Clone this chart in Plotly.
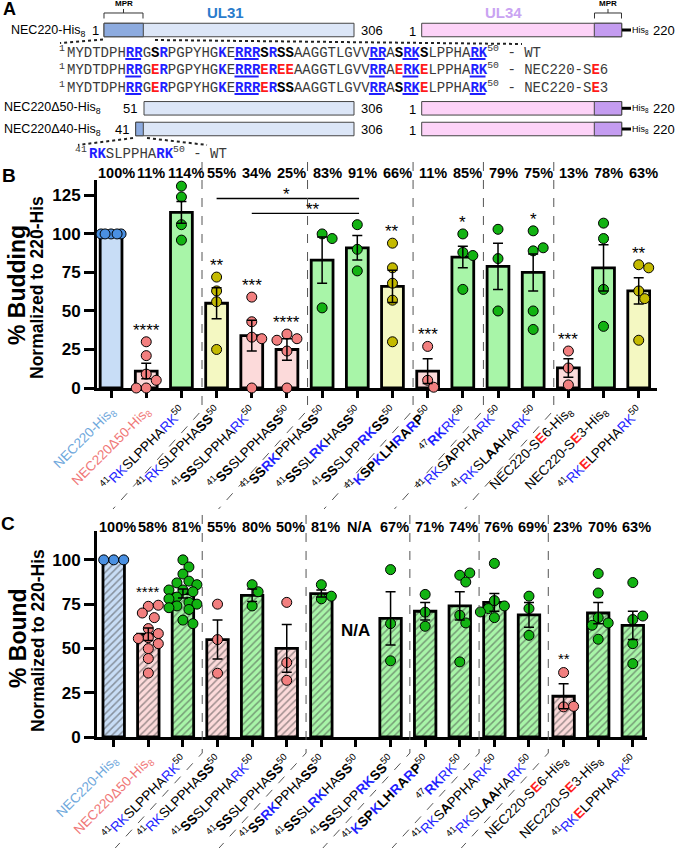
import plotly.graph_objects as go

W, H = 675, 848
FONT = "Arial, Liberation Sans, sans-serif"
MONO = "Liberation Mono, Courier New, monospace"
BLUE_T = "#1f1fff"
RED_T = "#ff1a1a"
SEQ_C = "#3a3a3a"

def bl(s): return f"<span style='color:{BLUE_T}'>{s}</span>"
def bb(s): return f"<b><span style='color:{BLUE_T}'>{s}</span></b>"
def b(s): return f"<b>{s}</b>"
def rb(s): return f"<b><span style='color:{RED_T}'>{s}</span></b>"

# ---------------- data ----------------
category_labels = [
    "<span style='color:#6fa8dc'>NEC220-His<sub>8</sub></span>",
    "<span style='color:#f07878'>NEC220Δ50-His<sub>8</sub></span>",
    "<sup>41</sup>" + bl("RK") + "SLPPHA" + bl("RK") + "<sup>50</sup>",
    "<sup>41</sup>" + bl("RK") + "SLPPHA" + b("SS") + "<sup>50</sup>",
    "<sup>41</sup>" + b("SS") + "SLPPHA" + bl("RK") + "<sup>50</sup>",
    "<sup>41</sup>" + b("SS") + "SLPPHA" + b("SS") + "<sup>50</sup>",
    "<sup>41</sup>" + b("SS") + bb("RK") + "PPHA" + b("SS") + "<sup>50</sup>",
    "<sup>41</sup>" + b("SS") + "SL" + bb("RK") + "HA" + b("SS") + "<sup>50</sup>",
    "<sup>41</sup>" + b("SS") + "SLPP" + bb("RK") + b("SS") + "<sup>50</sup>",
    "<sup>41</sup>" + bb("K") + b("SP") + bb("K") + b("LH") + bb("R") + b("A") + bb("R") + b("P") + "<sup>50</sup>",
    "<sup>47</sup>" + bb("RK") + bl("RK") + "<sup>50</sup>",
    "<sup>41</sup>" + bl("RK") + "S" + b("A") + "PPHA" + bl("RK") + "<sup>50</sup>",
    "<sup>41</sup>" + bl("RK") + "SL" + b("AA") + "HA" + bl("RK") + "<sup>50</sup>",
    "NEC220-S" + rb("E") + "6-His<sub>8</sub>",
    "NEC220-S" + rb("E") + "3-His<sub>8</sub>",
    "<sup>41</sup>" + bl("RK") + rb("E") + "LPPHA" + bl("RK") + "<sup>50</sup>",
]

budding_mean = [100, 11, 114, 55, 34, 25, 83, 91, 66, 11, 85, 79, 75, 13, 78, 63]
budding_sem = [None, 5, 7, 10, 10, 7, 15, 8, 10.5, 8, 7, 15, 12, 6, 15, 8.5]
budding_pct = ["100%", "11%", "114%", "55%", "34%", "25%", "83%", "91%", "66%",
               "11%", "85%", "79%", "75%", "13%", "78%", "63%"]
budding_group = ["blue", "pink", "green", "yellow", "pink", "pink", "green", "green",
                 "yellow", "pink", "green", "green", "green", "pink", "green", "yellow"]
budding_sig = ["", "****", "", "**", "***", "****", "", "", "**", "***", "*", "", "*", "***", "", "**"]
budding_points = [
    [100, 100, 100, 100, 100],
    [30, 21, 9, 5, 0, 0],
    [131, 124, 106, 96],
    [72, 63, 56, 25],
    [59, 43, 33, 32, 0],
    [35, 32, 31, 24, 0],
    [100, 97, 52],
    [106, 90, 76],
    [94, 78, 68, 57, 30],
    [27, 5, 0.5],
    [100, 88, 86, 64],
    [103, 84, 50],
    [102, 89, 91, 50, 38],
    [24, 13, 2],
    [107, 97, 64, 40],
    [80, 78, 63, 58, 31],
]

bound_mean = [100, 58, 81, 55, 80, 50, 81, None, 67, 71, 74, 76, 69, 23, 70, 63]
bound_sem = [None, 3.5, 2.5, 11, 3.5, 13.5, 2, None, 15, 5, 8, 5, 7, 7, 6, 8]
bound_pct = ["100%", "58%", "81%", "55%", "80%", "50%", "81%", "N/A", "67%",
             "71%", "74%", "76%", "69%", "23%", "70%", "63%"]
bound_group = ["blue", "pink", "green", "pink", "green", "pink", "green", None, "green",
               "green", "green", "green", "green", "pink", "green", "green"]
bound_sig = ["", "****", "", "", "", "", "", "", "", "", "", "", "", "**", "", ""]
bound_points = [
    [100, 100, 100],
    [73.8, 74.4, 70, 67.4, 61.2, 58.4, 56.1, 55.6, 52.7, 49.9, 44.3, 36.1],
    [100, 96, 92, 88, 87, 86, 83, 83, 82, 79, 78, 76, 75, 74, 73, 72, 66, 64],
    [75, 55, 36],
    [86, 82, 74],
    [76, 42, 32],
    [86, 78, 79.5],
    [],
    [94.5, 64, 43],
    [80.5, 70.5, 62.5],
    [91.3, 92.6, 87.5, 68.7, 64.4, 42.4],
    [98, 77, 74, 72.5, 70.6, 67.4],
    [79.5, 72.5, 57.4],
    [36.4, 17, 17.3],
    [92.3, 81.3, 67.4, 64.4, 63.1, 55.2],
    [87.2, 66.3, 68.3, 52.7, 41.4],
]

FILL = {"blue": "#c8ddf6", "pink": "#fcdada", "green": "#a8f5a8", "yellow": "#f4f8c2"}
DOT = {"blue": "#4a90e2", "pink": "#f27f7f", "green": "#12b312", "yellow": "#c4ba00"}

# ---------------- geometry (pixels) ----------------
BX0, BX1, BY0, BY1 = 97, 657, 180, 388       # panel B plot box
BXR, BYR = (-0.4, 15.52), (0, 135)
CX0, CX1, CY0, CY1 = 97, 647, 531, 737       # panel C plot box
CXR, CYR = (-0.483, 15.41), (0, 116.3)

def px2paper(x, y):
    return x / W, 1 - y / H

def xB(v): return BX0 + (v - BXR[0]) / (BXR[1] - BXR[0]) * (BX1 - BX0)
def xC(v): return CX0 + (v - CXR[0]) / (CXR[1] - CXR[0]) * (CX1 - CX0)

shapes = []
annotations = []

def ann(x, y, text, size=12, color="black", xanchor="center", yanchor="middle",
        family=FONT, bold=False, angle=0):
    px, py = px2paper(x, y)
    annotations.append(dict(x=px, y=py, xref="paper", yref="paper", text=(f"<b>{text}</b>" if bold else text),
                            showarrow=False, xanchor=xanchor, yanchor=yanchor, textangle=angle,
                            font=dict(size=size, color=color, family=family), borderpad=0))

def rect(x0, y0, x1, y1, fill, lw=1, lc="#444"):
    a0, b1 = px2paper(x0, y0)
    a1, b0 = px2paper(x1, y1)
    shapes.append(dict(type="rect", xref="paper", yref="paper", x0=a0, x1=a1, y0=b0, y1=b1,
                       fillcolor=fill, line=dict(color=lc, width=lw), layer="above"))

def pline(pts, color="black", width=1, dash="solid"):
    path = "M " + " L ".join(f"{x / W:.5f},{1 - y / H:.5f}" for x, y in pts)
    shapes.append(dict(type="path", xref="paper", yref="paper", path=path,
                       line=dict(color=color, width=width, dash=dash), layer="above"))

# ---------------- panel A ----------------
ann(9, 9, "A", 18, bold=True)
ann(123.5, 3.5, "MPR", 8, bold=True)
pline([(104, 18.5), (104, 13), (143, 13), (143, 18.5)], "#333", 1)
pline([(123.5, 13), (123.5, 9)], "#333", 1)
ann(608, 3.5, "MPR", 8, bold=True)
pline([(594.5, 18.5), (594.5, 13), (621.5, 13), (621.5, 18.5)], "#333", 1)
pline([(608, 13), (608, 9)], "#333", 1)
ann(226, 12, "UL31", 15, "#2a7ccc", bold=True)
ann(503, 12, "UL34", 15, "#c9a3f2", bold=True)

UL31_L, UL31_D, UL34_L, UL34_D = "#dce6f7", "#8dabdf", "#fdd3f8", "#c49cf0"

def construct_row(yc, start_lbl, x_start, dark_end, h=13.5):
    y0, y1 = yc - h / 2, yc + h / 2
    ann(x_start - 9 if len(start_lbl) == 1 else x_start - 14, yc + 0.5, start_lbl, 13)
    rect(x_start, y0, 354, y1, UL31_L)
    if dark_end:
        rect(x_start, y0, dark_end, y1, UL31_D)
    ann(372, yc + 0.5, "306", 13)
    ann(412.5, yc + 1.5, "1", 13)
    rect(421.7, y0, 621.7, y1, UL34_L)
    rect(594.3, y0, 621.7, y1, UL34_D)
    pline([(622, yc), (631, yc)], "black", 3)
    ann(631, yc + 0.5, "His<sub>8</sub>", 9, xanchor="left")
    ann(652, yc + 0.5, "220", 13, xanchor="left")

ann(10, 31, "NEC220-His<sub>8</sub>", 12.5, xanchor="left")
construct_row(30, "1", 104, 143.3)
ann(3, 108, "NEC220Δ50-His<sub>8</sub>", 12.5, xanchor="left")
construct_row(108.3, "51", 144, None)
ann(3, 130, "NEC220Δ40-His<sub>8</sub>", 12.5, xanchor="left")
construct_row(129, "41", 135.7, 143.3)

# dotted expansion lines
pline([(103, 39.5), (60, 43)], "#222", 2, "dot")
pline([(155, 40), (522, 44)], "#222", 2, "dot")
pline([(133, 138), (78, 145)], "#222", 2, "dot")
pline([(147, 138), (207, 145)], "#222", 2, "dot")

CW = 8.4  # mono char width at 14px
SEQ_X0 = 66

def seq_line(yc, body, tail):
    ann(SEQ_X0, yc - 3, "<sup>1</sup>", 14, SEQ_C, xanchor="right", family=MONO)
    ann(SEQ_X0, yc, body + "<sup>50</sup>" + tail, 14, SEQ_C, xanchor="left", family=MONO)
    for i0, i1 in [(7, 8), (20, 22), (36, 37), (40, 41), (48, 49)]:
        pline([(SEQ_X0 + i0 * CW + 0.5, yc + 7), (SEQ_X0 + (i1 + 1) * CW - 0.5, yc + 7)], BLUE_T, 2)

def mb(s): return f"<b><span style='color:{BLUE_T}'>{s}</span></b>"
def mr(s): return f"<b><span style='color:{RED_T}'>{s}</span></b>"
def mk(s): return f"<b><span style='color:black'>{s}</span></b>"

seq_wt = ("MYDTDPH" + mb("RR") + "G" + mk("S") + mb("R") + "PGPYHG" + mb("K") + "E" + mb("RRR")
          + mk("S") + mb("R") + mk("SS") + "AAGGTLGVV" + mb("RR") + "A" + mk("S") + mb("RK")
          + mk("S") + "LPPHA" + mb("RK"))
seq_se6 = ("MYDTDPH" + mb("RR") + "G" + mr("E") + mb("R") + "PGPYHG" + mb("K") + "E" + mb("RRR")
           + mr("E") + mb("R") + mr("EE") + "AAGGTLGVV" + mb("RR") + "A" + mr("E") + mb("RK")
           + mr("E") + "LPPHA" + mb("RK"))
seq_se3 = ("MYDTDPH" + mb("RR") + "G" + mr("E") + mb("R") + "PGPYHG" + mb("K") + "E" + mb("RRR")
           + mr("E") + mb("R") + mk("SS") + "AAGGTLGVV" + mb("RR") + "A" + mk("S") + mb("RK")
           + mr("E") + "LPPHA" + mb("RK"))
seq_line(52, seq_wt, " - WT")
seq_line(69.5, seq_se6, " - NEC220-S" + mr("E") + "6")
seq_line(87, seq_se3, " - NEC220-S" + mr("E") + "3")

ann(88, 150, "<sup>41</sup>", 14, SEQ_C, xanchor="right", family=MONO)
ann(88, 153, mb("RK") + "SLPPHA" + mb("RK") + "<sup>50</sup> - WT", 14, SEQ_C, xanchor="left", family=MONO)

# ---------------- panel letters / axis titles ----------------
ann(8.5, 175, "B", 19, bold=True)
ann(7.5, 523.5, "C", 19, bold=True)
ann(17, 285, "% Budding", 23, bold=True, angle=-90)
ann(37, 288, "Normalized to 220-His", 17.5, bold=True, angle=-90)
ann(18, 638, "% Bound", 23, bold=True, angle=-90)
ann(38, 641, "Normalized to 220-His", 17.5, bold=True, angle=-90)

# ---------------- beeswarm offsets ----------------
def swarm(vals, d, ppx, ppy):
    placed, offs = [], []
    cands = [0, 0.6, -0.6, 1.0, -1.0, 1.4, -1.4]
    for v in vals:
        y = v * ppy
        best, bestd = 0, -1
        for c in cands:
            x = c * d
            md = min([((x - a) ** 2 + (y - q) ** 2) ** 0.5 for a, q in placed], default=1e9)
            if md >= 0.9 * d:
                best = x
                break
            if md > bestd:
                bestd, best = md, x
        placed.append((best, y))
        offs.append(best / ppx)
    return offs

fig = go.Figure()

def panel(xa, ya, means, sems, groups, points, ppx, ppy, pattern):
    cats = list(range(len(means)))
    fills = [FILL[g] if g else "rgba(0,0,0,0)" for g in groups]
    marker = dict(color=fills, line=dict(color="black", width=2.8))
    if pattern:
        marker["pattern"] = dict(shape="/", fgcolor="#8a8a8a", size=5, solidity=0.3, fillmode="overlay")
    fig.add_trace(go.Bar(x=cats, y=means, width=0.62, marker=marker, xaxis=xa, yaxis=ya,
                         showlegend=False, hoverinfo="skip"))
    for k, pts in enumerate(points):
        if not pts:
            continue
        offs = swarm(pts, 10, ppx, ppy)
        fig.add_trace(go.Scatter(x=[k + o for o in offs], y=pts, mode="markers", xaxis=xa, yaxis=ya,
                                 marker=dict(size=10, color=DOT[groups[k]], line=dict(color="black", width=1)),
                                 cliponaxis=False, showlegend=False, hoverinfo="skip"))
    em = [m if s is not None else None for m, s in zip(means, sems)]
    fig.add_trace(go.Scatter(x=cats, y=em, mode="markers", xaxis=xa, yaxis=ya,
                             marker=dict(size=1, color="rgba(0,0,0,0)"),
                             error_y=dict(type="data", array=[s if s else 0 for s in sems],
                                          color="black", thickness=1.5, width=5),
                             cliponaxis=False, showlegend=False, hoverinfo="skip"))

ppxB = (BX1 - BX0) / (BXR[1] - BXR[0]); ppyB = (BY1 - BY0) / (BYR[1] - BYR[0])
ppxC = (CX1 - CX0) / (CXR[1] - CXR[0]); ppyC = (CY1 - CY0) / (CYR[1] - CYR[0])
panel("x", "y", budding_mean, budding_sem, budding_group, budding_points, ppxB, ppyB, False)
panel("x2", "y2", bound_mean, bound_sem, bound_group, bound_points, ppxC, ppyC, True)

for k, t in enumerate(budding_pct):
    ann(xB(k) + 5, 173, t, 14.5, bold=True)
for k, t in enumerate(bound_pct):
    ann(xC(k) + 4, 527, t, 14.5, bold=True)

for k, s in enumerate(budding_sig):
    if s:
        annotations.append(dict(x=k, y=max(budding_points[k]) + 10, xref="x", yref="y", text=s,
                                showarrow=False, font=dict(size=17, family=FONT), yanchor="middle", yshift=-4))
for k, s in enumerate(bound_sig):
    if s:
        annotations.append(dict(x=k, y=max(bound_points[k]) + 10, xref="x2", yref="y2", text=s,
                                showarrow=False, font=dict(size=15, family=FONT), yanchor="middle", yshift=-4))
annotations.append(dict(x=7, y=60, xref="x2", yref="y2", text="<b>N/A</b>", showarrow=False,
                        font=dict(size=17, family=FONT)))

shapes.append(dict(type="line", xref="x", yref="y", x0=3, x1=7.05, y0=123, y1=123, line=dict(color="black", width=1.3)))
shapes.append(dict(type="line", xref="x", yref="y", x0=4, x1=7.05, y0=113.4, y1=113.4, line=dict(color="black", width=1.3)))
annotations.append(dict(x=5.0, y=123, xref="x", yref="y", text="*", showarrow=False,
                        font=dict(size=17, family=FONT), yanchor="bottom", yshift=-8))
annotations.append(dict(x=5.75, y=113.4, xref="x", yref="y", text="**", showarrow=False,
                        font=dict(size=17, family=FONT), yanchor="bottom", yshift=-8))

for bnd in [2.5, 5.5, 8.5, 10.5, 12.5]:
    X = xB(bnd) + 3
    pline([(X, 162), (X, 410), (X - 89, 509)], "#555", 1, "dash")
    X = xC(bnd) + 2
    pline([(X, 515), (X, 753), (X - 87, 848)], "#555", 1, "dash")

def xaxis(domain, rng, anchor):
    return dict(domain=[domain[0] / W, domain[1] / W], range=list(rng), anchor=anchor,
                tickmode="array", tickvals=list(range(16)), ticktext=category_labels, tickangle=-45,
                ticks="outside", ticklen=7, tickwidth=3, tickcolor="black",
                showline=True, linewidth=3, linecolor="black", showgrid=False, zeroline=False,
                tickfont=dict(size=13.5, family=FONT, color="black"), automargin=False, layer="below traces")

def yaxis(top, bottom, rng, anchor):
    return dict(domain=[1 - bottom / H, 1 - top / H], range=list(rng), anchor=anchor,
                tickmode="array", tickvals=[0, 25, 50, 75, 100, 125] if rng[1] > 125 else [0, 25, 50, 75, 100],
                ticks="outside", ticklen=10, tickwidth=3, tickcolor="black",
                showline=True, linewidth=3, linecolor="black", showgrid=False, zeroline=False,
                tickfont=dict(size=17, family=FONT, color="black", weight="bold"), automargin=False,
                layer="below traces")

fig.update_layout(
    template="none", width=W, height=H, margin=dict(l=0, r=0, t=0, b=0),
    paper_bgcolor="white", plot_bgcolor="rgba(0,0,0,0)", showlegend=False,
    xaxis=xaxis((BX0, BX1), BXR, "y"), yaxis=yaxis(BY0, BY1, BYR, "x"),
    xaxis2=xaxis((CX0, CX1), CXR, "y2"), yaxis2=yaxis(CY0, CY1, CYR, "x2"),
    shapes=shapes, annotations=annotations,
    font=dict(family=FONT, color="black"),
)

fig.write_html("out.html", config={"displayModeBar": False, "staticPlot": True},
               post_script="document.body.style.margin='0';document.body.style.padding='0';")
